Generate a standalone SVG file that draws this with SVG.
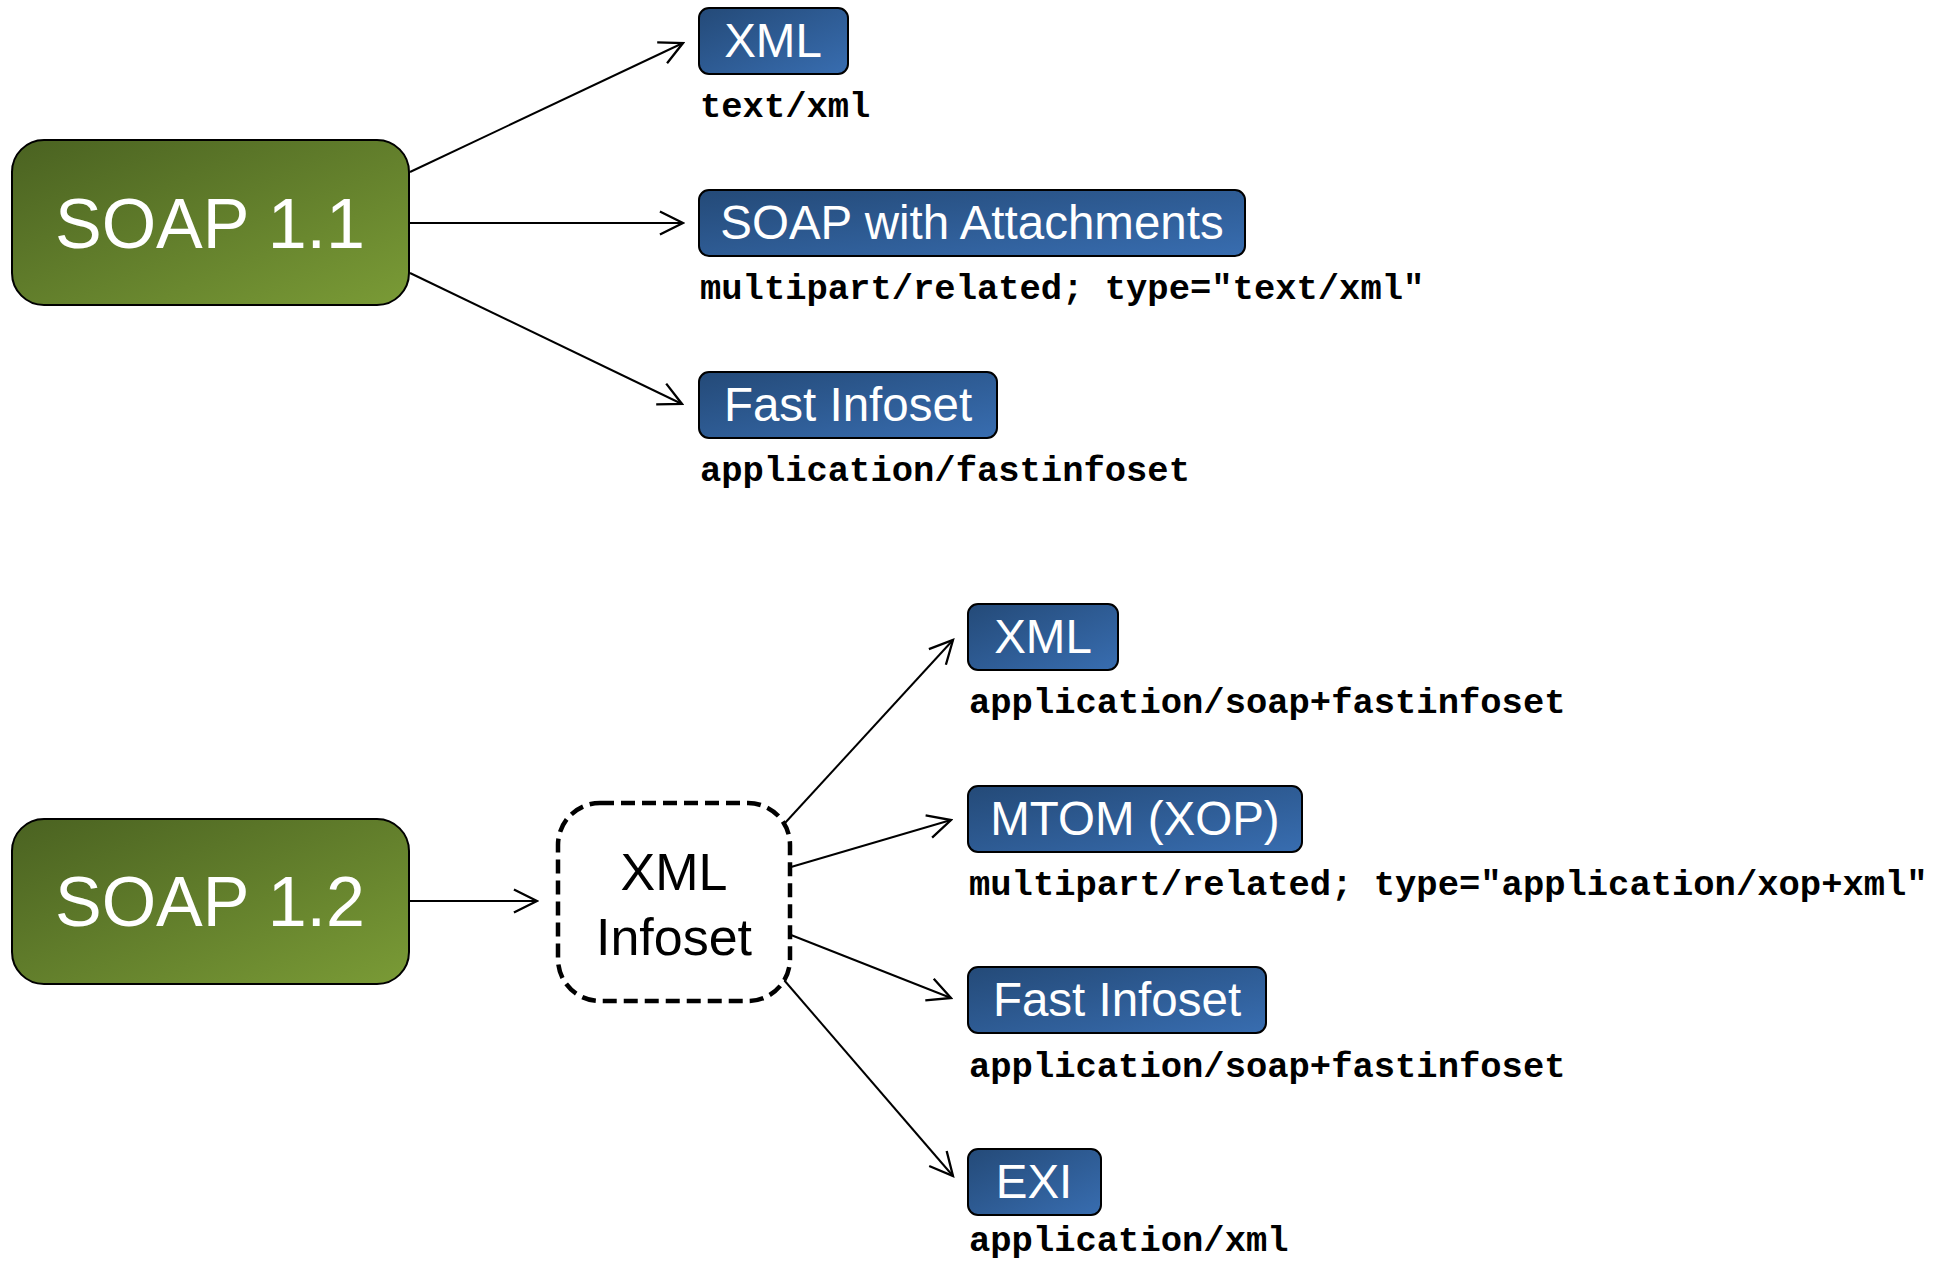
<svg xmlns="http://www.w3.org/2000/svg" width="1945" height="1262" viewBox="0 0 1945 1262">
  <defs>
    <linearGradient id="gGreen" x1="0" y1="0" x2="1" y2="1">
      <stop offset="0" stop-color="#4a6221"/>
      <stop offset="1" stop-color="#7a9b36"/>
    </linearGradient>
    <linearGradient id="gBlue" x1="0" y1="0" x2="1" y2="1">
      <stop offset="0" stop-color="#244a78"/>
      <stop offset="1" stop-color="#386db0"/>
    </linearGradient>
    <marker id="arrow" markerUnits="userSpaceOnUse" markerWidth="30" markerHeight="30" refX="0" refY="0" viewBox="-24 -13 26 26" orient="auto">
      <path d="M-20,-10 L0,0 L-20,10" fill="none" stroke="#000" stroke-width="2"/>
    </marker>
    <style>
      .version { fill: url(#gGreen); stroke: #000; stroke-width: 2; }
      .version-text { font-family: "Liberation Sans", Arial, sans-serif; font-size: 70px; fill: #fff; text-anchor: middle; }
      .enc { fill: url(#gBlue); stroke: #000; stroke-width: 2; }
      .enc-text { font-family: "Liberation Sans", Arial, sans-serif; font-size: 47.5px; fill: #fff; text-anchor: middle; }
      .mime { font-family: "Liberation Mono", "Courier New", monospace; font-size: 35.5px; font-weight: bold; fill: #000; }
      .infoset { fill: #fff; stroke: #000; stroke-width: 4.5; stroke-dasharray: 14 7; }
      .infoset-text { font-family: "Liberation Sans", Arial, sans-serif; font-size: 52px; fill: #000; text-anchor: middle; }
      .conn { fill: none; stroke: #000; stroke-width: 2; marker-end: url(#arrow); }
    </style>
  </defs>

  <rect width="1945" height="1262" fill="#fff"/>

  <!-- connectors -->
  <g id="connectors">
    <line class="conn" x1="410" y1="172" x2="683" y2="43"/>
    <line class="conn" x1="410" y1="223" x2="683" y2="223"/>
    <line class="conn" x1="410" y1="273" x2="682" y2="404"/>
    <line class="conn" x1="410" y1="901" x2="537" y2="901"/>
    <line class="conn" x1="785" y1="823" x2="953" y2="640"/>
    <line class="conn" x1="791" y1="867" x2="951" y2="820"/>
    <line class="conn" x1="791" y1="935" x2="951" y2="998"/>
    <line class="conn" x1="784" y1="980" x2="953" y2="1176"/>
  </g>

  <!-- SOAP 1.1 -->
  <g id="soap11">
    <rect class="version" x="12" y="140" width="397" height="165" rx="32"/>
    <text class="version-text" x="210" y="248">SOAP 1.1</text>
  </g>

  <g id="xml-11">
    <rect class="enc" x="699" y="8" width="149" height="66" rx="10"/>
    <text class="enc-text" x="773" y="57">XML</text>
    <text class="mime" x="700" y="117">text/xml</text>
  </g>

  <g id="swa">
    <rect class="enc" x="699" y="190" width="546" height="66" rx="10"/>
    <text class="enc-text" x="972" y="239">SOAP with Attachments</text>
    <text class="mime" x="700" y="299">multipart/related; type="text/xml"</text>
  </g>

  <g id="fi-11">
    <rect class="enc" x="699" y="372" width="298" height="66" rx="10"/>
    <text class="enc-text" x="848" y="421">Fast Infoset</text>
    <text class="mime" x="700" y="481">application/fastinfoset</text>
  </g>

  <!-- SOAP 1.2 -->
  <g id="soap12">
    <rect class="version" x="12" y="819" width="397" height="165" rx="32"/>
    <text class="version-text" x="210" y="926">SOAP 1.2</text>
  </g>

  <g id="infoset">
    <rect class="infoset" x="558" y="803" width="232" height="198" rx="42"/>
    <text class="infoset-text" x="674" y="890">XML</text>
    <text class="infoset-text" x="674" y="955">Infoset</text>
  </g>

  <g id="xml-12">
    <rect class="enc" x="968" y="604" width="150" height="66" rx="10"/>
    <text class="enc-text" x="1043" y="653">XML</text>
    <text class="mime" x="969" y="713">application/soap+fastinfoset</text>
  </g>

  <g id="mtom">
    <rect class="enc" x="968" y="786" width="334" height="66" rx="10"/>
    <text class="enc-text" x="1135" y="835">MTOM (XOP)</text>
    <text class="mime" x="969" y="895">multipart/related; type="application/xop+xml"</text>
  </g>

  <g id="fi-12">
    <rect class="enc" x="968" y="967" width="298" height="66" rx="10"/>
    <text class="enc-text" x="1117" y="1016">Fast Infoset</text>
    <text class="mime" x="969" y="1077">application/soap+fastinfoset</text>
  </g>

  <g id="exi">
    <rect class="enc" x="968" y="1149" width="133" height="66" rx="10"/>
    <text class="enc-text" x="1034" y="1198">EXI</text>
    <text class="mime" x="969" y="1251">application/xml</text>
  </g>
</svg>
